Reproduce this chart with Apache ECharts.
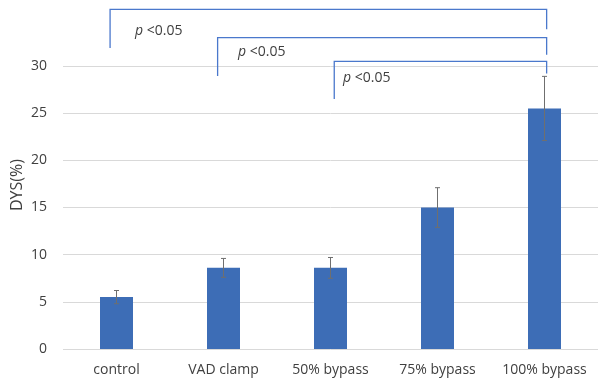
<!DOCTYPE html>
<html><head><meta charset="utf-8">
<script src="https://cdn.jsdelivr.net/npm/echarts@6/dist/echarts.min.js"></script>
<style>html,body{margin:0;padding:0;background:#fff}#c{width:598px;height:382px}</style>
</head><body><div id="c"></div>
<script>
const categories = ['control', 'VAD clamp', '50% bypass', '75% bypass', '100% bypass'];
const means = [5.5, 8.6, 8.6, 15.0, 25.5];
const errors = [0.7, 1.0, 1.1, 2.1, 3.4];
const yTicks = [0, 5, 10, 15, 20, 25, 30];
// significance brackets (x on a 0-based category scale, y in DYS units)
const bracketLeftX = [-0.06, 0.945, 2.035];
const bracketRightX = [4.02, 4.02, 4.02];
const bracketTopY = [36.0, 33.0, 30.5];
const bracketLeftBottomY = [31.9, 28.95, 26.5];
const bracketRightBottomY = [33.9, 31.2, 29.2];
const labelX = [0.173, 1.136, 2.117];
const labelY = [33.75, 31.5, 28.74];
const labelText = ['p <0.05', 'p <0.05', 'p <0.05'];

const chart = echarts.init(document.getElementById('c'));
const font = '"Open Sans", sans-serif';
const bracketData = bracketLeftX.map((x, i) => [x, bracketRightX[i], bracketTopY[i], bracketLeftBottomY[i], bracketRightBottomY[i], labelX[i], labelY[i], i]);
chart.setOption({
  animation: false,
  grid: {left: 63, right: 0, top: 66, bottom: 33},
  xAxis: [{
    type: 'category', data: categories,
    axisLine: {show: false}, axisTick: {show: false},
    axisLabel: {color: '#404040', fontSize: 14, fontFamily: font, margin: 14, interval: 0, hideOverlap: false}
  }, {
    type: 'value', min: -0.5, max: 4.5, show: false
  }],
  yAxis: {
    type: 'value', min: yTicks[0], max: yTicks[yTicks.length - 1], interval: 5,
    axisLine: {show: false}, axisTick: {show: false},
    axisLabel: {color: '#404040', fontSize: 14, fontFamily: font, margin: 16},
    splitLine: {lineStyle: {color: '#d9d9d9', width: 1}}
  },
  graphic: [{
    type: 'text', x: 17, y: 185, rotation: Math.PI / 2,
    style: {text: 'DYS(%)', fill: '#404040', font: '16px ' + font, align: 'center', verticalAlign: 'middle'}
  }],
  series: [{
    type: 'bar', data: means, barWidth: 33,
    itemStyle: {color: '#3D6DB6'}
  }, {
    type: 'custom',
    data: means.map((m, i) => [i, m - errors[i], m + errors[i]]),
    renderItem: function (params, api) {
      const lo = api.coord([api.value(0), api.value(1)]);
      const hi = api.coord([api.value(0), api.value(2)]);
      const hw = 2.5;
      const st = {stroke: '#6f6f6f', lineWidth: 1};
      return {type: 'group', children: [
        {type: 'line', shape: {x1: lo[0], y1: lo[1], x2: hi[0], y2: hi[1]}, style: st},
        {type: 'line', shape: {x1: lo[0] - hw, y1: lo[1], x2: lo[0] + hw, y2: lo[1]}, style: st},
        {type: 'line', shape: {x1: hi[0] - hw, y1: hi[1], x2: hi[0] + hw, y2: hi[1]}, style: st}
      ]};
    },
    z: 5
  }, {
    type: 'custom', xAxisIndex: 1, clip: false,
    data: bracketData,
    renderItem: function (params, api) {
      const lx = api.value(0), rx = api.value(1), ty = api.value(2), lb = api.value(3), rb = api.value(4);
      const a = api.coord([lx, lb]), b = api.coord([lx, ty]), c = api.coord([rx, ty]), d = api.coord([rx, rb]);
      const t = api.coord([api.value(5), api.value(6)]);
      const parts = labelText[params.dataIndex].split(' ');
      return {type: 'group', children: [
        {type: 'polyline', shape: {points: [a, b, c, d]}, style: {stroke: '#4a78cc', lineWidth: 1.3, fill: null}},
        {type: 'text', x: t[0], y: t[1], style: {
          text: '{i|' + parts[0] + '} ' + parts.slice(1).join(' '), verticalAlign: 'middle', align: 'left',
          rich: {i: {fontStyle: 'italic', fontSize: 14, fontFamily: font, fill: '#404040'}},
          fontSize: 14, fontFamily: font, fill: '#404040'
        }}
      ]};
    },
    z: 6
  }]
});
</script></body></html>
